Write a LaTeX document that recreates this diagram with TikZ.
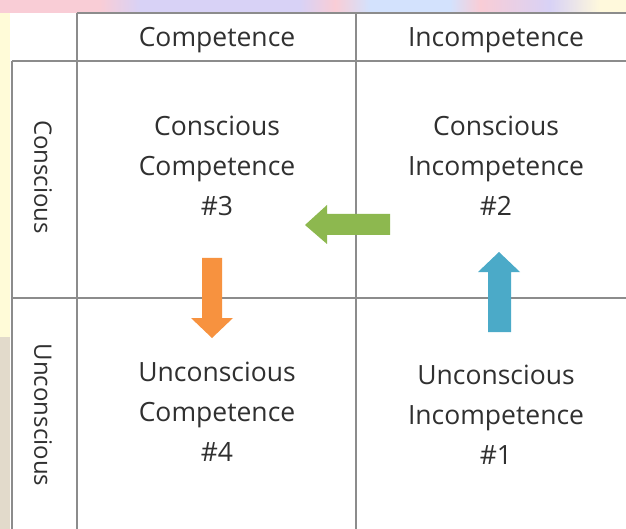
\documentclass[tikz,border=0pt]{standalone}
\usepackage{fontspec}
\setmainfont{Open Sans}
\definecolor{gridgray}{HTML}{8C8C8C}
\definecolor{ink}{HTML}{303030}
\definecolor{arrowgreen}{HTML}{8DB84F}
\definecolor{arrowblue}{HTML}{4BAAC8}
\definecolor{arroworange}{HTML}{F7923F}
\definecolor{bandpink}{HTML}{F9CDD6}
\definecolor{bandlav}{HTML}{D8D2F6}
\definecolor{bandblue}{HTML}{D3E2FD}
\definecolor{bandyellow}{HTML}{FFF9DC}
\definecolor{stripyellow}{HTML}{FFFBD8}
\definecolor{stripstone}{HTML}{E2DACB}
\begin{document}
\begin{tikzpicture}[x=1pt,y=-1pt,
  gridline/.style={draw=gridgray,line width=2pt},
  label/.style={text=ink,font=\fontsize{26.5}{40}\selectfont,align=center,inner sep=0pt},
  sidelabel/.style={label,font=\fontsize{24}{30}\selectfont,rotate=-90}]
  % page and background strips
  \useasboundingbox (0,0) rectangle (626,529);
  \fill[white] (0,0) rectangle (626,529);
  \shade[left color=bandpink,right color=bandpink] (0,0) rectangle (100,13);
  \shade[left color=bandpink,right color=bandlav] (100,0) rectangle (140,13);
  \fill[bandlav] (140,0) rectangle (300,13);
  \shade[left color=bandlav,right color=bandpink] (300,0) rectangle (335,13);
  \shade[left color=bandpink,right color=bandblue] (335,0) rectangle (370,13);
  \fill[bandblue] (370,0) rectangle (450,13);
  \shade[left color=bandblue,right color=bandpink] (450,0) rectangle (480,13);
  \shade[left color=bandpink,right color=bandlav] (480,0) rectangle (550,13);
  \shade[left color=bandlav,right color=bandyellow] (550,0) rectangle (600,13);
  \fill[bandyellow] (600,0) rectangle (626,13);
  \fill[stripyellow] (0,13) rectangle (10,337);
  \fill[stripstone] (0,337) rectangle (10,529);

  % table rules
  \draw[gridline] (77,13) -- (626,13);
  \draw[gridline] (12,61) -- (626,61);
  \draw[gridline] (12,298) -- (626,298);
  \draw[gridline] (12,61) -- (12,529);
  \draw[gridline] (77,13) -- (77,529);
  \draw[gridline] (356,13) -- (356,529);

  % column and row headings
  \node[label,anchor=base] (hcomp) at (217,47) {Competence};
  \node[label,anchor=base] (hincomp) at (496,47) {Incompetence};
  \node[sidelabel] (rcons) at (43,177) {Conscious};
  \node[sidelabel] (runcons) at (43,415) {Unconscious};

  % quadrants
  \node[label] (q3) at (217,166) {Conscious\\Competence\\\#3};
  \node[label] (q2) at (496,166) {Conscious\\Incompetence\\\#2};
  \node[label] (q4) at (217,412) {Unconscious\\Competence\\\#4};
  \node[label] (q1) at (496,415) {Unconscious\\Incompetence\\\#1};

  % block arrows between the stages
  \fill[arrowgreen] (305,225) -- (327,205) -- (327,214) -- (390,214)
    -- (390,235) -- (327,235) -- (327,244) -- cycle;
  \fill[arrowblue] (499,252) -- (520,272) -- (511,272) -- (511,332)
    -- (488,332) -- (488,272) -- (478,272) -- cycle;
  \fill[arroworange] (212,338) -- (233,318) -- (222,318) -- (222,258)
    -- (202,258) -- (202,318) -- (191,318) -- cycle;
\end{tikzpicture}
\end{document}
